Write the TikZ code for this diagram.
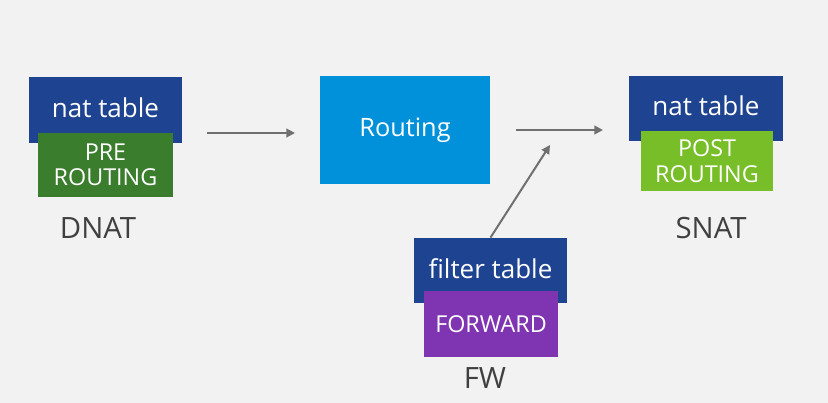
\documentclass[tikz,border=0pt]{standalone}
\usepackage{fontspec}
\setmainfont{Open Sans}
\usetikzlibrary{arrows.meta}
\definecolor{bgc}{HTML}{F2F2F2}
\definecolor{tblblue}{HTML}{1E4391}
\definecolor{prec}{HTML}{3A7D2C}
\definecolor{postc}{HTML}{78BE28}
\definecolor{fwdc}{HTML}{7F35B2}
\definecolor{routc}{HTML}{0091DA}
\definecolor{arrc}{HTML}{707070}
\definecolor{labc}{HTML}{404040}
\tikzset{
  box/.style={rectangle,inner sep=0pt,text=white,align=center,font=\fontsize{17.5}{19}\selectfont},
  tbl/.style={box,fill=tblblue,minimum width=115pt,minimum height=49pt,font=\fontsize{19.5}{21}\selectfont},
  chain/.style={box,minimum width=101pt,minimum height=48pt},
  lab/.style={text=labc,font=\fontsize{22}{24}\selectfont},
  arr/.style={draw=arrc,line width=1.5pt,-{Triangle[length=6.5pt,width=6.5pt]}}
}
\begin{document}
\begin{tikzpicture}[x=0.75pt,y=-0.75pt]
\fill[bgc](0,0)rectangle(828,403);
% DNAT side
\node[tbl](natL) at (105.5,110){\raisebox{4pt}{nat table}};
\node[chain,fill=prec](pre) at (105.5,165){PRE\\ROUTING};
\node[lab](dnat) at (98,228){DNAT};
% routing
\node[box,fill=routc,minimum width=127.5pt,minimum height=81pt,font=\fontsize{19}{21}\selectfont](routing) at (405,130){Routing};
% SNAT side
\node[tbl](natR) at (706,108.5){\raisebox{4pt}{nat table}};
\node[chain,fill=postc,minimum width=99pt,minimum height=45pt](post) at (707,161){POST\\ROUTING};
\node[lab](snat) at (711,228){SNAT};
% filter
\node[tbl](filter) at (490.5,270.5){\raisebox{3pt}{filter table}};
\node[chain,fill=fwdc,minimum height=49.5pt](fwd) at (491,324){FORWARD};
\node[lab](fw) at (485,378){FW};
% arrows
\coordinate(in1) at (207,133);\coordinate(in2) at (295,133);
\coordinate(out1) at (516,130);\coordinate(out2) at (603,130);
\coordinate(join) at (550,145);
\draw[arr](in1)--(in2);
\draw[arr](out1)--(out2);
\draw[arr](filter.north)--(join);
\end{tikzpicture}
\end{document}
